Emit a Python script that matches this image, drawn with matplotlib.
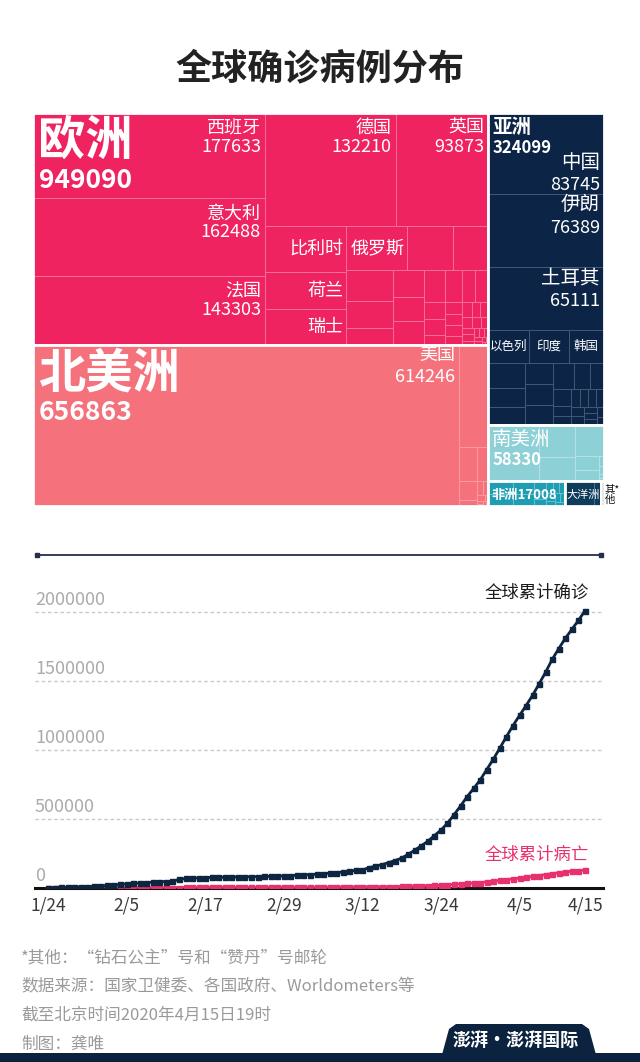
import matplotlib
matplotlib.use('Agg')
import matplotlib.pyplot as plt
from matplotlib.patches import Rectangle, Polygon

plt.rcParams['font.family'] = ['Noto Sans CJK SC', 'DejaVu Sans']

# ---------------- treemap data ----------------
continents = ['欧洲', '北美洲', '亚洲', '南美洲', '非洲', '大洋洲', '其他']
continent_totals = [949090, 656863, 324099, 58330, 17008, 7872, 721]

eu_names = ['西班牙', '意大利', '法国', '德国', '英国', '比利时', '荷兰', '瑞士', '俄罗斯',
            '葡萄牙', '奥地利', '爱尔兰', '瑞典', '罗马尼亚', '波兰', '挪威', '丹麦', '捷克',
            '塞尔维亚', '乌克兰', '白俄罗斯', '卢森堡', '芬兰', '摩尔多瓦', '克罗地亚', '冰岛',
            '匈牙利', '爱沙尼亚', '斯洛文尼亚', '波黑', '立陶宛', '北马其顿', '斯洛伐克',
            '保加利亚', '拉脱维亚', '安道尔', '阿尔巴尼亚', '科索沃', '马耳他', '圣马力诺',
            '黑山', '马恩岛', '法罗群岛', '直布罗陀', '摩纳哥', '列支敦士登']
eu_vals = [177633, 162488, 143303, 132210, 93873, 33573, 27419, 26336, 24490,
           18091, 14336, 12547, 11445, 7216, 7202, 6740, 6681, 6216,
           4873, 3764, 3728, 3307, 3161, 1934, 1741, 1720,
           1579, 1434, 1220, 1110, 1091, 1031, 835,
           747, 665, 659, 494, 400, 384, 356,
           288, 286, 184, 129, 93, 80]

na_names = ['美国', '加拿大', '墨西哥', '巴拿马', '多米尼加', '波多黎各', '古巴', '哥斯达黎加',
            '洪都拉斯', '危地马拉', '萨尔瓦多', '特立尼达和多巴哥', '牙买加', '巴巴多斯', '巴哈马']
na_vals = [614246, 27063, 5399, 3400, 3286, 974, 766, 618, 426, 167, 149, 113, 105, 73, 49]

as_names = ['中国', '伊朗', '土耳其', '以色列', '印度', '韩国', '日本', '巴基斯坦', '沙特',
            '阿联酋', '菲律宾', '印尼', '马来西亚', '卡塔尔', '新加坡', '泰国', '巴林', '伊拉克',
            '科威特', '阿塞拜疆', '哈萨克斯坦', '孟加拉国', '乌兹别克斯坦', '亚美尼亚', '阿富汗',
            '阿曼', '塞浦路斯', '黎巴嫩', '吉尔吉斯斯坦']
as_vals = [83745, 76389, 65111, 12046, 11933, 10591, 8100, 6383, 5862,
           5365, 5223, 5136, 4987, 3711, 3252, 2643, 1671, 1415,
           1405, 1253, 1232, 1231, 1165, 1067, 784,
           727, 695, 641, 466]

sa_names = ['巴西', '秘鲁', '智利', '厄瓜多尔', '哥伦比亚', '阿根廷', '乌拉圭', '玻利维亚',
            '委内瑞拉', '巴拉圭']
sa_vals = [25684, 10303, 7917, 7858, 2979, 2432, 483, 354, 193, 159]

af_names = ['南非', '埃及', '阿尔及利亚', '摩洛哥', '喀麦隆', '突尼斯', '科特迪瓦', '加纳',
            '吉布提', '尼日尔', '布基纳法索', '尼日利亚', '几内亚', '毛里求斯', '塞内加尔']
af_vals = [2415, 2350, 2070, 1888, 848, 747, 638, 636, 591, 529, 497, 373, 363, 324, 299]

oc_names = ['澳大利亚', '新西兰', '斐济']
oc_vals = [6462, 1386, 16]

ot_names = ['钻石公主号', '赞丹号']
ot_vals = [712, 9]

full_labels = ['西班牙', '意大利', '法国', '德国', '英国', '美国', '中国', '伊朗', '土耳其']
name_labels = ['比利时', '荷兰', '瑞士', '俄罗斯', '以色列', '印度', '韩国']

# ---------------- line chart data (1/24 .. 4/15, daily) ----------------
tick_labels = ['1/24', '2/5', '2/17', '2/29', '3/12', '3/24', '4/5', '4/15']
tick_days = [0, 12, 24, 36, 48, 60, 72, 82]

confirmed = [941, 1434, 2118, 2927, 5578, 6166, 8234, 9927,
             12038, 16787, 19881, 23892, 27635, 30794, 34391, 37120, 40150, 42762,
             44802, 45221, 60368, 66885, 69030, 71224, 73258, 75136, 75639, 76197,
             76819, 78572, 78958, 79561, 80406, 81388, 82746, 84112, 86011,
             88369, 90306, 92840, 95120, 97886, 101801, 105847, 109821, 113590, 118620,
             125875, 128352, 145205, 156101, 167454, 181574, 197102, 214821, 242570, 272208,
             304507, 336953, 378235, 418045, 467653, 529591, 593291, 660706, 720117, 782365,
             857487,
             932605, 1013466, 1095917, 1176060, 1249754, 1321481, 1396476, 1479804, 1565278,
             1657526, 1735650, 1810000, 1875000, 1940000, 2010000]

deaths = [26, 42, 56, 82, 131, 133, 171, 213,
          259, 362, 426, 492, 564, 634, 719, 806, 906, 1013,
          1113, 1118, 1371, 1523, 1666, 1770, 1868, 2007, 2122, 2247,
          2251, 2458, 2469, 2629, 2708, 2770, 2814, 2872, 2941,
          2996, 3085, 3160, 3254, 3348, 3460, 3558, 3803, 3996, 4262,
          4615, 4720, 5404, 5819, 6440, 7126, 7905, 8733, 9867, 11299,
          12973, 14623, 16497, 18615, 21181, 23970, 27198, 30652, 33925, 37582,
          42107,
          46809, 52983, 58787, 64606, 69374, 74565, 81865, 88338, 95455,
          102525, 108502, 114091, 119482, 124000, 128500]

# ---------------- styles ----------------
fill = ['#ef2360', '#f5717b', '#0c2446', '#8dd0d5', '#1f9db2', '#0f3c5a', '#2b2b2b']
edge = ['#f76e96', '#f99ba3', '#3f5878', '#b6e2e5', '#64c2d0', '#46708c', '#2b2b2b']
# strips laid out before automatic squarify: (side, count)
plans = {
    'top': [('left', 2), ('top', 1), ('top', 1), ('left', 1), ('left', 1), ('left', 1)],
    '欧洲': [('left', 3), ('top', 2), ('left', 3), ('top', 3)],
    '北美洲': [('left', 1), ('top', 1)],
    '亚洲': [('top', 1), ('top', 1), ('top', 1), ('top', 3)],
}


def place_strip(vals, total, side, x, y, w, h):
    s = float(sum(vals))
    out = []
    if side == 'left':
        sw = w * s / total
        yy = y
        for v in vals:
            hh = h * v / s
            out.append((x, yy, sw, hh))
            yy += hh
        return out, (x + sw, y, w - sw, h)
    sh = h * s / total
    xx = x
    for v in vals:
        ww = w * v / s
        out.append((xx, y, ww, sh))
        xx += ww
    return out, (x, y + sh, w, h - sh)


def next_row(vals, i, total, w, h, ratio=1.618):
    alpha = max(h / w, w / h) / (total * ratio)
    s = vmin = vmax = vals[i]
    b = s * s * alpha
    best = max(vmax / b, b / vmin)
    j = i + 1
    while j < len(vals):
        v = vals[j]
        b = (s + v) ** 2 * alpha
        r = max(max(vmax, v) / b, b / min(vmin, v))
        if r > best:
            break
        s += v
        best = r
        vmin, vmax = min(vmin, v), max(vmax, v)
        j += 1
    return j


def layout(vals, rect, plan=()):
    total = float(sum(vals))
    x, y, w, h = rect
    plan = list(plan)
    rects = []
    i = 0
    while i < len(vals):
        if plan:
            side, n = plan.pop(0)
            j = i + n
        else:
            side = 'top' if w < h else 'left'
            j = next_row(vals, i, total, w, h)
        sub, (x, y, w, h) = place_strip(vals[i:j], total, side, x, y, w, h)
        total -= sum(vals[i:j])
        rects += sub
        i = j
    return rects


fig = plt.figure(figsize=(6.4, 10.62), dpi=100)
W, H = 640.0, 1062.0


def fy(py):
    return 1 - py / H


fig.text(320 / W, fy(69), '全球确诊病例分布', ha='center', va='center',
         fontsize=26, fontweight='bold', color='#222222')

# ---------------- treemap ----------------
TW, TH = 571, 393
ax = fig.add_axes([33 / W, fy(506), TW / W, TH / H])
ax.set_xlim(0, TW)
ax.set_ylim(TH, 0)
ax.axis('off')

members = [(eu_names, eu_vals), (na_names, na_vals), (as_names, as_vals),
           (sa_names, sa_vals), (af_names, af_vals), (oc_names, oc_vals),
           (ot_names, ot_vals)]
cont_rects = layout(continent_totals, (0, 0, TW, TH), plans['top'])

full_dy = {'欧洲': (15, 34), '北美洲': (10, 32), '亚洲': (11, 34)}
for k, (cname, (x, y, w, h)) in enumerate(zip(continents, cont_rects)):
    names, vals = members[k]
    rects = layout(vals, (x, y, w, h), plans.get(cname, ()))
    for nm, v, (rx, ry, rw, rh) in zip(names, vals, rects):
        ax.add_patch(Rectangle((rx, ry), rw, rh, facecolor=fill[k],
                               edgecolor=edge[k], lw=0.7))
        if nm in full_labels:
            d1, d2 = full_dy[cname]
            if nm == '中国':
                d1, d2 = d1 + 38, d2 + 38
            fs = 14 if cname == '亚洲' else 13
            ax.text(rx + rw - 4, ry + d1, nm, ha='right', va='center',
                    fontsize=fs, color='white')
            ax.text(rx + rw - 4, ry + d2, str(v), ha='right', va='center',
                    fontsize=13, color='white', fontweight='light')
        elif nm in name_labels:
            if cname == '亚洲':
                ax.text(rx + rw / 2, ry + rh / 2, nm, ha='center', va='center',
                        fontsize=9, color='white')
            else:
                ax.text(rx + rw - 3, ry + rh / 2, nm, ha='right', va='center',
                        fontsize=13, color='white')
    ax.add_patch(Rectangle((x, y), w, h, facecolor='none', edgecolor='white', lw=2))

    total = continent_totals[k]
    if cname in ('欧洲', '北美洲'):
        ax.text(x + 5, y + 28, cname, ha='left', va='center', fontsize=34,
                fontweight='bold', color='white')
        ax.text(x + 6, y + 67, str(total), ha='left', va='center', fontsize=19,
                fontweight='bold', color='white')
    elif cname in ('亚洲', '南美洲'):
        ax.text(x + 4, y + 14, cname, ha='left', va='center', fontsize=14,
                fontweight='bold' if cname == '亚洲' else 'normal', color='white')
        ax.text(x + 4, y + 35, str(total), ha='left', va='center', fontsize=12,
                fontweight='bold', color='white')
    elif cname == '非洲':
        ax.text(x + 3, y + h / 2 + 1, cname + str(total), ha='left',
                va='center', fontsize=9.5, fontweight='bold', color='white')
    elif cname == '大洋洲':
        ax.text(x + w / 2, y + h / 2 + 1, cname, ha='center', va='center',
                fontsize=8, color='white')
    else:
        ax.text(x + w + 1, y + h / 2 + 1, '其*\n他', ha='left', va='center',
                fontsize=7.5, color='#111111', linespacing=1.0)

# ---------------- line chart ----------------
lx0, lx1, ly0, ly1 = 35, 603, 555, 887.7
lax = fig.add_axes([lx0 / W, fy(ly1), (lx1 - lx0) / W, (ly1 - ly0) / H])
px_per_day = (585 - 48) / 82.0
px_per_unit = 68.9 / 500000
lax.set_xlim(-(48 - lx0) / px_per_day, 82 + (lx1 - 585) / px_per_day)
lax.set_ylim(0, (ly1 - ly0) / px_per_unit)

days = list(range(len(confirmed)))
for v in [500000, 1000000, 1500000, 2000000]:
    lax.axhline(v, color='#c9c9c9', lw=1, dashes=(2.5, 2), zorder=1)
for v in [0, 500000, 1000000, 1500000, 2000000]:
    lax.annotate(str(v), xy=(0, v), xycoords=('axes fraction', 'data'),
                 xytext=(0, 2), textcoords='offset points', ha='left', va='bottom',
                 fontsize=13, color='#ababab', fontweight='light')

lax.plot(days, deaths, color='#e8306c', lw=2, marker='s', ms=3.6, zorder=3)
lax.plot(days, confirmed, color='#0d2541', lw=2, marker='s', ms=3.6, zorder=4)

lax.annotate('全球累计确诊', xy=(days[-1], confirmed[-1]), xytext=(3, 13),
             textcoords='offset points', ha='right', va='center', fontsize=12.5,
             color='#1a1a1a')
lax.annotate('全球累计病亡', xy=(days[-1], deaths[-1]), xytext=(3, 11),
             textcoords='offset points', ha='right', va='center', fontsize=12.5,
             color='#e8306c')

lax.set_xticks(tick_days)
lax.set_xticklabels(tick_labels, fontsize=12.5, color='#3a3a3a')
lax.tick_params(axis='x', length=0, pad=6)
lax.set_yticks([])
for s in ['left', 'right', 'top']:
    lax.spines[s].set_visible(False)
lax.spines['bottom'].set_color('#111111')
lax.spines['bottom'].set_linewidth(2.2)
lax.plot([0.003, 0.997], [1, 1], transform=lax.transAxes, clip_on=False,
         color='#23304a', lw=1.3, marker='s', ms=3)

# ---------------- footer ----------------
notes = ['*其他：“钻石公主”号和“赞丹”号邮轮',
         '数据来源：国家卫健委、各国政府、Worldometers等',
         '截至北京时间2020年4月15日19时',
         '制图：龚唯']
for i, t in enumerate(notes):
    fig.text(21 / W, fy(958 + 28.7 * i), t, ha='left', va='center',
             fontsize=12, color='#9a9a9a', fontweight='light')

navy = '#0c2340'
fig.patches.append(Rectangle((0, 0), 1, 9 / H, transform=fig.transFigure,
                             facecolor=navy, edgecolor='none'))
tab = [(440, 1062), (449, 1029), (456, 1024), (582, 1024), (589, 1029), (598, 1062)]
fig.patches.append(Polygon([(a / W, fy(b)) for a, b in tab], closed=True,
                           transform=fig.transFigure, facecolor=navy, edgecolor='none'))
fig.text(516 / W, fy(1040), '澎湃·澎湃国际', ha='center', va='center',
         fontsize=13, fontweight='bold', color='white')

fig.savefig('out.png', dpi=100, facecolor='white')
